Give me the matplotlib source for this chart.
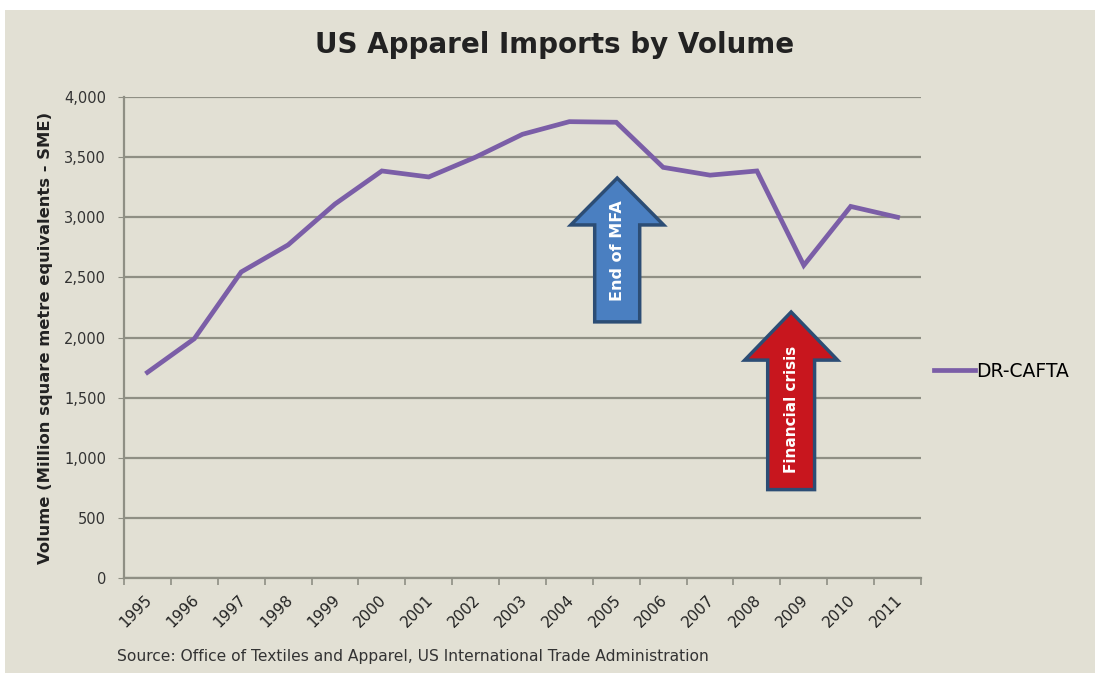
import matplotlib
matplotlib.use("Agg")
import matplotlib.pyplot as plt
import matplotlib.transforms as mtransforms
from matplotlib.patches import Rectangle, FancyArrow

YEARS = [str(y) for y in range(1995, 2012)]
DR_CAFTA = [1710, 1990, 2545, 2770, 3110, 3385, 3335, 3500, 3690, 3795,
            3790, 3415, 3350, 3385, 2600, 3090, 3000]
Y_TICKS = [0, 500, 1000, 1500, 2000, 2500, 3000, 3500, 4000]

BG = "#e2e0d4"
GRID = "#8f8f84"
PURPLE = "#7b5ea7"
FONT = "DejaVu Sans"

fig = plt.figure(figsize=(10.95, 6.73), dpi=100, facecolor="white")
fig.patches.append(Rectangle((5 / 1095, 0), 1, 1 - 10 / 673, transform=fig.transFigure,
                             facecolor=BG, edgecolor="none", zorder=-10))
ax = fig.add_axes([124 / 1095, 95 / 673, 797 / 1095, 481 / 673])
ax.set_facecolor(BG)

x = list(range(len(YEARS)))
ax.plot(x, DR_CAFTA, color=PURPLE, lw=3.4, solid_joinstyle="miter", zorder=3,
        label="DR-CAFTA")

ax.set_xlim(-0.5, len(YEARS) - 0.5)
ax.set_ylim(0, 4000)
ax.set_yticks(Y_TICKS)
ax.set_yticklabels([f"{v:,}" for v in Y_TICKS], fontsize=10.5, family=FONT,
                   color="#333333")
ax.yaxis.grid(True, color=GRID, lw=1.6)
ax.set_axisbelow(True)
ax.tick_params(axis="y", length=4, color=GRID, pad=9)

ax.set_xticks(x)
ax.set_xticklabels(YEARS, rotation=45, ha="right", rotation_mode="anchor",
                   fontsize=11, family=FONT, color="#222222")
ax.tick_params(axis="x", which="major", length=0, pad=10)
ax.set_xticks([i - 0.5 for i in range(len(YEARS) + 1)], minor=True)
ax.tick_params(axis="x", which="minor", length=5, color=GRID, width=1.2)
offset = mtransforms.ScaledTranslation(-3 / 100, 0, fig.dpi_scale_trans)
for lbl in ax.get_xticklabels():
    lbl.set_transform(lbl.get_transform() + offset)

for side in ("top", "right"):
    ax.spines[side].set_visible(False)
for side in ("left", "bottom"):
    ax.spines[side].set_color(GRID)
    ax.spines[side].set_linewidth(1.6)

ax.set_ylabel("Volume (Million square metre equivalents - SME)", fontsize=11.8,
              fontweight="bold", family=FONT, labelpad=8, color="#222222")

# annotation arrows
blue = FancyArrow(10.02, 2130, 0, 1196, width=0.96, head_width=1.98, head_length=390,
                  length_includes_head=True, facecolor="#4a7fc1", edgecolor="#2c4d75",
                  lw=2.5, zorder=4)
ax.add_patch(blue)
ax.text(10.02, 2720, "End of MFA", rotation=90, ha="center", va="center",
        color="white", fontsize=11.5, fontweight="bold", family=FONT, zorder=5)

red = FancyArrow(13.73, 735, 0, 1477, width=1.0, head_width=1.98, head_length=400,
                 length_includes_head=True, facecolor="#c8161e", edgecolor="#2c4d75",
                 lw=2.5, zorder=4)
ax.add_patch(red)
ax.text(13.73, 1400, "Financial crisis", rotation=90, ha="center", va="center",
        color="white", fontsize=11, fontweight="bold", family=FONT, zorder=5)

ax.legend(loc="center left", bbox_to_anchor=(0.995, 0.43), frameon=False,
          handlelength=2.2, handletextpad=0.05,
          prop={"family": FONT, "size": 13.5})

fig.text(555 / 1095, 1 - 45 / 673, "US Apparel Imports by Volume", ha="center",
         va="center", fontsize=20, fontweight="bold", family=FONT, color="#222222")
fig.text(117 / 1095, 1 - 657 / 673,
         "Source: Office of Textiles and Apparel, US International Trade Administration",
         ha="left", va="center", fontsize=11.2, family=FONT, color="#333333")

fig.savefig("out.png", dpi=100, facecolor=fig.get_facecolor())
